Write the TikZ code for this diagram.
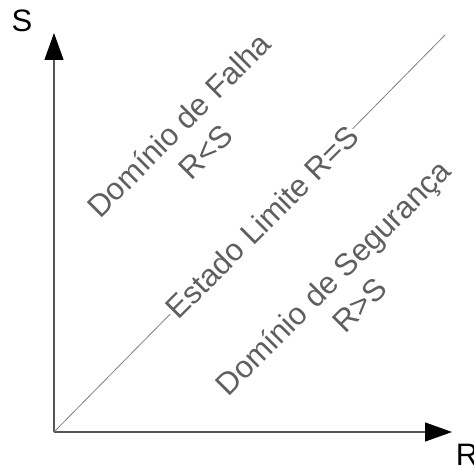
\documentclass[tikz,border=0pt]{standalone}
\usepackage{fontspec}
\setmainfont{Liberation Sans}
\usetikzlibrary{arrows.meta,positioning}
\definecolor{axgray}{HTML}{555555}
\definecolor{txtgray}{HTML}{5F5F5F}
\definecolor{lngray}{HTML}{808080}
\tikzset{
  axis/.style={draw=axgray,line width=1.3pt,-{Triangle[length=27pt,width=19pt,color=black]}},
  limline/.style={draw=lngray,line width=0.8pt},
  axlbl/.style={font=\fontsize{31}{31}\selectfont,text=black,inner sep=0pt},
  region/.style={font=\fontsize{31}{38}\selectfont,text=txtgray,align=center,rotate=45,inner sep=1pt},
}
\begin{document}
\begin{tikzpicture}[x=1pt,y=-1pt]
\useasboundingbox (0,0) rectangle (474,468);
\coordinate (O) at (54,432);
\coordinate (Stip) at (54,33);
\coordinate (Rtip) at (452,432);
\coordinate (L) at (445,35);
% axes
\draw[axis] (O) -- (Stip);
\draw[axis] (O) -- (Rtip);
\node[axlbl] (S) at (22,21) {S};
\node[axlbl] (R) at (467,455) {R};
% limit state line
\draw[limline] (O) -- (L);
\node[region,fill=white] (lim) at (262,222) {Estado Limite R=S};
\node[region] (falha) at (192,138) {Domínio de Falha\\R<S};
\node[region] (seg) at (346,291) {Domínio de Segurança\\R>S};
\end{tikzpicture}
\end{document}
